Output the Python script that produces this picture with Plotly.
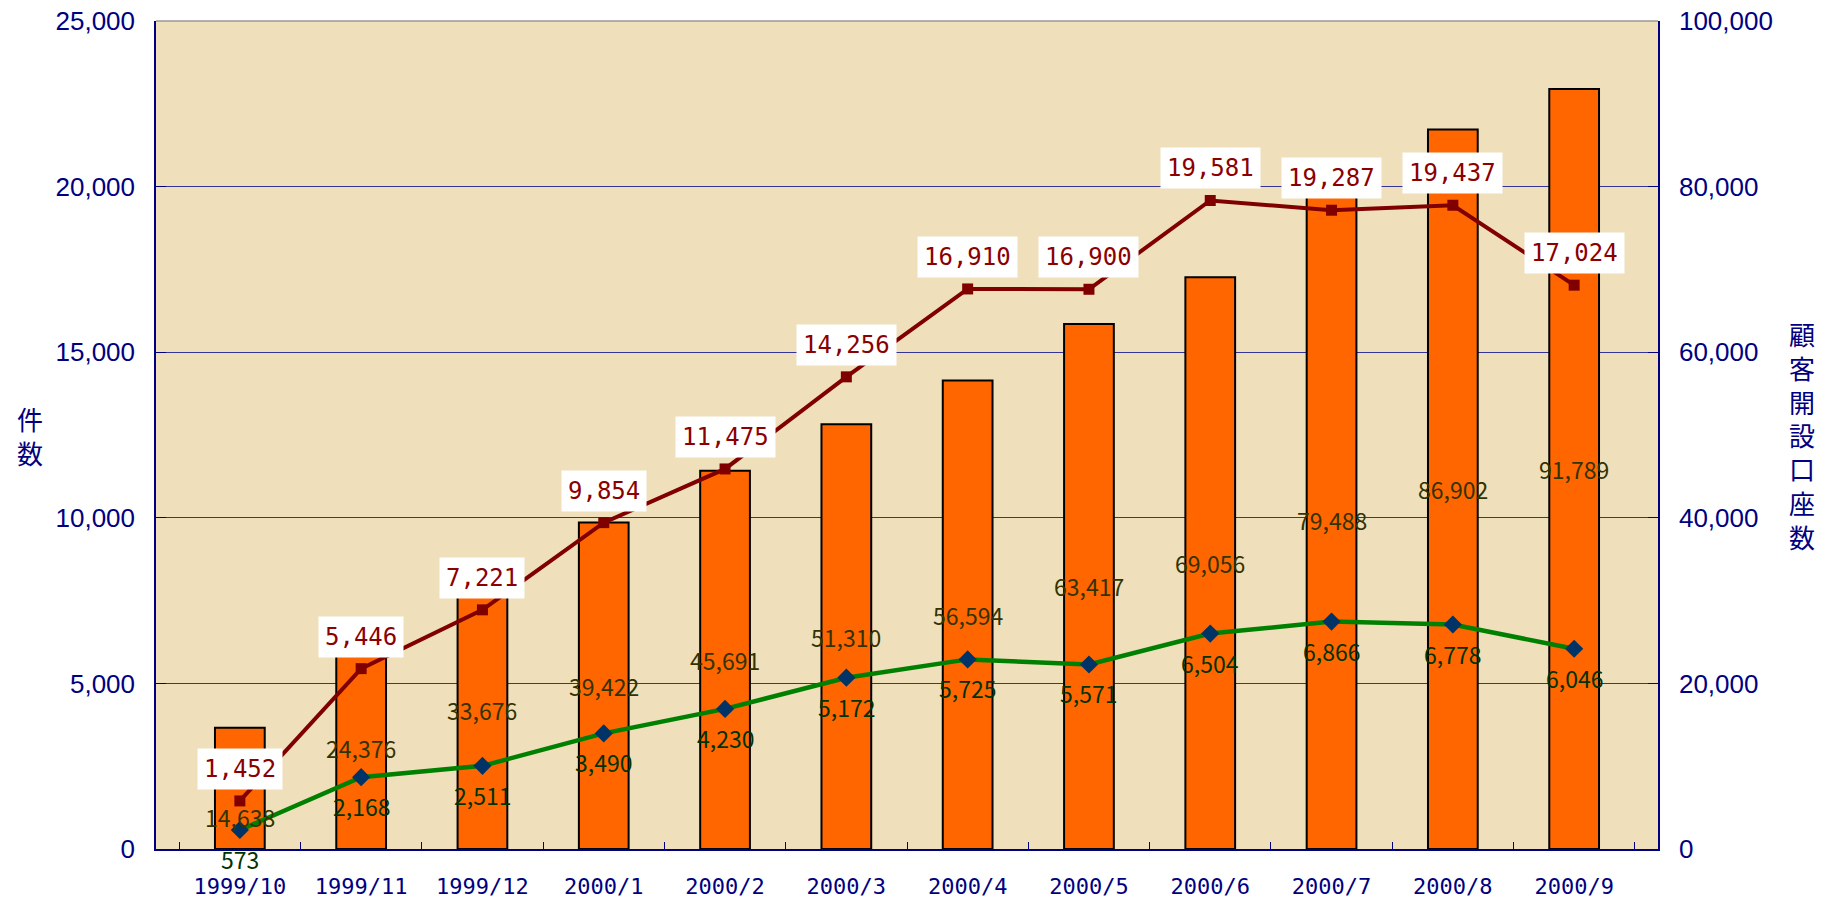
import plotly.graph_objects as go

months = ["1999/10", "1999/11", "1999/12", "2000/1", "2000/2", "2000/3",
          "2000/4", "2000/5", "2000/6", "2000/7", "2000/8", "2000/9"]
accounts = [14638, 24376, 33676, 39422, 45691, 51310, 56594, 63417, 69056, 79488, 86902, 91789]
red_series = [1452, 5446, 7221, 9854, 11475, 14256, 16910, 16900, 19581, 19287, 19437, 17024]
green_series = [573, 2168, 2511, 3490, 4230, 5172, 5725, 5571, 6504, 6866, 6778, 6046]

NAVY = "#000080"
fig = go.Figure()

fig.add_trace(go.Bar(
    x=months, y=accounts, yaxis="y", width=0.41,
    marker=dict(color="#FF6600", line=dict(color="#000000", width=2)),
    hoverinfo="skip", showlegend=False))

fig.add_trace(go.Scatter(
    x=months, y=red_series, yaxis="y2", mode="lines+markers",
    line=dict(color="#800000", width=4),
    marker=dict(symbol="square", size=11, color="#800000"),
    showlegend=False))

fig.add_trace(go.Scatter(
    x=months, y=green_series, yaxis="y2", mode="lines+markers",
    line=dict(color="#008000", width=4.5),
    marker=dict(symbol="diamond", size=14, color="#003366"),
    showlegend=False))

ann = []
for i, (m, v) in enumerate(zip(months, accounts)):
    ann.append(dict(x=m, y=v / 2, xref="x", yref="y", text=f"{v:,}", showarrow=False,
                    yshift=-29 if i == 0 else 0,
                    font=dict(family="Noto Sans CJK JP", size=23, color="#333300")))
for m, v in zip(months, red_series):
    ann.append(dict(x=m, y=v, xref="x", yref="y2", text=f"{v:,}", showarrow=False, yshift=32,
                    bgcolor="#FFFFFF", borderpad=6,
                    font=dict(family="DejaVu Sans Mono", size=24, color="#8B0000")))
for m, v in zip(months, green_series):
    ann.append(dict(x=m, y=v, xref="x", yref="y2", text=f"{v:,}", showarrow=False, yshift=-29,
                    font=dict(family="Noto Sans CJK JP", size=23, color="#003300")))

ann.append(dict(x=-0.0839, y=0.5, xref="paper", yref="paper", text="件<br>数", showarrow=False,
                xanchor="center", yanchor="middle",
                font=dict(family="Noto Sans CJK JP", size=26, color=NAVY)))
ann.append(dict(x=1.0959, y=0.5, xref="paper", yref="paper",
                text="<br>".join(list("顧客開設口座数")), showarrow=False,
                xanchor="center", yanchor="middle",
                font=dict(family="Noto Sans CJK JP", size=26, color=NAVY)))

fig.update_layout(
    width=1831, height=905,
    margin=dict(l=156, r=173, t=21, b=56),
    paper_bgcolor="#FFFFFF", plot_bgcolor="#EFDFBB",
    bargap=0.59,
    xaxis=dict(type="category", showgrid=False, ticks="inside", tickson="boundaries",
               ticklen=7, tickcolor=NAVY, showline=True, linecolor=NAVY, linewidth=2,
               tickfont=dict(family="DejaVu Sans Mono", size=22, color=NAVY),
               ticklabelstandoff=17, automargin=False),
    yaxis=dict(side="right", range=[0, 100000], dtick=20000, tickformat=",",
               showgrid=True, gridcolor="#333399", gridwidth=1,
               ticks="inside", ticklen=10, tickcolor=NAVY,
               showline=True, linecolor=NAVY, linewidth=1.5, zeroline=False,
               tickfont=dict(family="Liberation Sans", size=26, color=NAVY),
               ticklabelstandoff=14, automargin=False, ticklabeloverflow="allow"),
    yaxis2=dict(side="left", overlaying="y", range=[0, 25000], dtick=5000, tickformat=",",
                showgrid=False, ticks="inside", ticklen=10, tickcolor=NAVY,
                showline=True, linecolor=NAVY, linewidth=1.5, zeroline=False,
                tickfont=dict(family="Liberation Sans", size=26, color=NAVY),
                ticklabelstandoff=14, automargin=False, ticklabeloverflow="allow"),
    annotations=ann,
    shapes=[dict(type="line", xref="paper", yref="paper", x0=0, x1=1, y0=1, y1=1,
                 line=dict(color="#999999", width=1.5))],
)

fig.write_html("out.html", config={"displayModeBar": False},
               post_script="document.body.style.margin='0';")
